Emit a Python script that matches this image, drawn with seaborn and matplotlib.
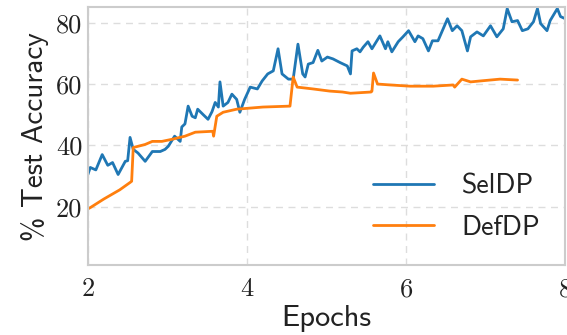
import matplotlib
matplotlib.use("Agg")
import matplotlib.pyplot as plt
import seaborn as sns
import pandas as pd

# SelDP test accuracy (noisy curve)
sel_epoch = [2.00, 2.03, 2.10, 2.18, 2.25, 2.31, 2.38, 2.47, 2.50, 2.53, 2.57, 2.63,
             2.72, 2.81, 2.91, 2.97, 3.01, 3.09, 3.16, 3.18, 3.22, 3.26, 3.31, 3.35,
             3.38, 3.45, 3.51, 3.56, 3.60, 3.64, 3.66, 3.70, 3.76, 3.81, 3.87, 3.91,
             3.97, 4.04, 4.13, 4.19, 4.26, 4.33, 4.39, 4.44, 4.52, 4.58, 4.64, 4.70,
             4.73, 4.77, 4.83, 4.89, 4.94, 5.01, 5.08, 5.17, 5.26, 5.30, 5.32, 5.38,
             5.42, 5.46, 5.52, 5.57, 5.67, 5.74, 5.77, 5.82, 5.90, 5.96, 6.03, 6.11,
             6.15, 6.21, 6.28, 6.33, 6.40, 6.52, 6.58, 6.64, 6.70, 6.77, 6.81, 6.89,
             6.97, 7.06, 7.14, 7.22, 7.27, 7.33, 7.40, 7.46, 7.53, 7.60, 7.65, 7.69,
             7.77, 7.81, 7.90, 7.94, 8.00]
sel_acc = [30.5, 32.8, 32.0, 37.0, 33.5, 34.4, 30.5, 34.8, 35.0, 42.6, 38.7, 37.5,
           34.8, 38.0, 38.0, 38.7, 39.7, 43.0, 41.3, 46.0, 47.0, 52.8, 49.5, 49.0,
           51.8, 50.0, 48.5, 51.0, 54.0, 52.5, 60.7, 52.8, 54.0, 56.7, 55.0, 50.8,
           55.0, 59.0, 58.4, 61.0, 63.3, 64.3, 71.5, 63.3, 61.6, 61.6, 73.0, 63.3,
           62.3, 66.5, 67.0, 71.0, 67.5, 68.8, 68.2, 67.0, 65.9, 63.3, 70.8, 71.5,
           70.5, 72.0, 73.8, 71.5, 75.7, 71.5, 73.8, 70.5, 73.8, 75.4, 77.4, 73.8,
           75.7, 74.8, 70.8, 74.1, 74.1, 81.3, 77.4, 79.0, 77.4, 70.8, 75.4, 77.0,
           75.7, 79.0, 75.4, 78.0, 84.6, 80.3, 80.7, 77.4, 78.0, 80.3, 84.6, 79.7,
           77.4, 80.7, 84.6, 82.0, 81.3]

# DefDP test accuracy (step-like curve)
def_epoch = [2.00, 2.03, 2.20, 2.40, 2.53, 2.55, 2.57, 2.72, 2.81, 2.93, 3.06, 3.22,
             3.35, 3.57, 3.58, 3.62, 3.70, 3.87, 4.20, 4.54, 4.58, 4.63, 4.83, 5.04,
             5.20, 5.30, 5.56, 5.57, 5.59, 5.64, 5.80, 6.05, 6.34, 6.59, 6.61, 6.70,
             6.81, 6.93, 7.18, 7.40]
def_acc = [19.3, 19.7, 22.5, 25.5, 27.9, 28.3, 39.3, 40.3, 41.3, 41.3, 42.0, 43.0,
           44.3, 44.6, 43.0, 49.5, 50.8, 51.8, 52.5, 52.8, 62.3, 59.0, 58.4, 57.7,
           57.4, 57.0, 57.4, 57.7, 63.6, 60.0, 59.7, 59.3, 59.3, 59.7, 59.0, 61.6,
           60.7, 61.0, 61.6, 61.3]

x_ticks = [2, 4, 6, 8]
y_ticks = [20, 40, 60, 80]

sns.set_theme(style="whitegrid")

df = pd.concat([
    pd.DataFrame({"epoch": sel_epoch, "acc": sel_acc, "method": "SelDP"}),
    pd.DataFrame({"epoch": def_epoch, "acc": def_acc, "method": "DefDP"}),
])

fig = plt.figure(figsize=(5.67, 3.35), dpi=100)
ax = fig.add_axes([0.155, 0.209, 0.842, 0.769])

sns.lineplot(data=df, x="epoch", y="acc", hue="method", estimator=None,
             palette=["#1f77b4", "#ff7f0e"], linewidth=2.0, ax=ax)

ax.set_xlim(2, 8)
ax.set_ylim(1, 85)
ax.set_xticks(x_ticks)
ax.set_yticks(y_ticks)
ax.set_xticklabels([str(t) for t in x_ticks], fontfamily="cmr10", fontsize=19, color="#222222")
ax.set_yticklabels([str(t) for t in y_ticks], fontfamily="cmr10", fontsize=19, color="#222222")
ax.tick_params(axis="x", length=0, pad=9)
ax.tick_params(axis="y", length=0, pad=4)

ax.set_xlabel("Epochs", fontfamily="cmss10", fontsize=22, color="#222222", labelpad=3)
ax.set_ylabel("% Test Accuracy", fontfamily="cmss10", fontsize=21, color="#222222", labelpad=5)

ax.grid(True, linestyle=(0, (5, 4)), color="#dddddd", linewidth=1.0)
for s in ax.spines.values():
    s.set_color("#cccccc")
    s.set_linewidth(1.5)

leg = ax.legend(loc="lower right", frameon=False, handlelength=2.2, handletextpad=1.0,
                prop={"family": "cmss10", "size": 20}, labelspacing=0.6,
                bbox_to_anchor=(1.0, 0.0))
for t in leg.get_texts():
    t.set_color("#222222")

fig.savefig("out.png", dpi=100)
